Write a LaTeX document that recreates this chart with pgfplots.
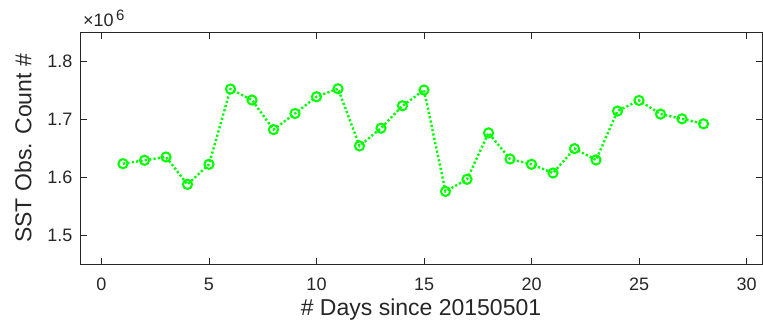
\documentclass[border=0pt]{standalone}
\usepackage{fontspec}
\setmainfont{Liberation Sans}
\usepackage{pgfplots}
\pgfplotsset{compat=1.18}
\usetikzlibrary{calc}
\definecolor{axgray}{RGB}{38,38,38}
\definecolor{mgreen}{RGB}{0,255,0}
\begin{document}
\begin{tikzpicture}
\begin{axis}[
  name=ax,
  scale only axis,
  width=682pt, height=232pt,
  xmin=-1, xmax=30.72,
  ymin=1450000, ymax=1850000,
  xtick={0,5,...,30},
  ytick={1500000,1600000,1700000,1800000},
  scaled y ticks=base 10:-6,
  ytick scale label code/.code={},
  y tick label style={/pgf/number format/fixed, /pgf/number format/fixed zerofill, /pgf/number format/precision=1},
  /pgf/number format/assume math mode=true,
  tick label style={font=\fontsize{18}{20}\selectfont, text=axgray},
  label style={font=\fontsize{23}{26}\selectfont, text=axgray},
  xlabel={\# Days since 20150501},
  ylabel={SST Obs. Count \#},
  axis line style={axgray, line width=0.8pt},
  tick style={axgray, line width=0.8pt},
  major tick length=6.5pt,
  tick align=inside,
  xtick pos=both, ytick pos=both,
  xticklabel pos=lower, yticklabel pos=left,
  xticklabel style={yshift=-10pt},
  yticklabel style={xshift=-4pt},
  xlabel style={yshift=-1pt},
  ylabel style={yshift=9pt},
  clip=false,
]
\addplot[mgreen, line width=2.4pt, dash pattern=on 2.2pt off 2.2pt,
  mark=o, mark size=4.6pt, mark options={solid, line width=2pt}]
coordinates {
(1,1623500) (2,1629300) (3,1635000) (4,1587800) (5,1622400)
(6,1752200) (7,1733200) (8,1682300) (9,1710000) (10,1738900)
(11,1752700) (12,1654100) (13,1684700) (14,1723300) (15,1750500)
(16,1575700) (17,1596500) (18,1676600) (19,1631600) (20,1622400)
(21,1607400) (22,1649400) (23,1629900) (24,1714200) (25,1732500)
(26,1709000) (27,1700800) (28,1692200)
};
\node[anchor=base west, inner sep=0pt, xshift=3pt, yshift=5.5pt, text=axgray, font=\fontsize{18}{20}\selectfont]
  at (rel axis cs:0,1) {×10\hspace{2.5pt}\raisebox{6pt}{\fontsize{15}{15}\selectfont 6}};
\end{axis}
\pgfresetboundingbox
\path ($(ax.south west)+(-80pt,-58.7pt)$) rectangle ($(ax.north east)+(1pt,32.3pt)$);
\end{tikzpicture}
\end{document}
